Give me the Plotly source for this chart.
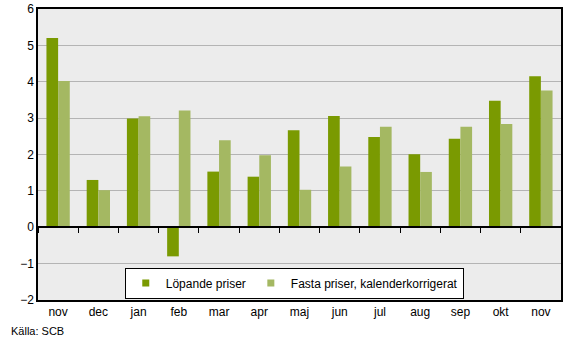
import plotly.graph_objects as go

months = ["nov", "dec", "jan", "feb", "mar", "apr", "maj", "jun", "jul", "aug", "sep", "okt", "nov "]
month_labels = ["nov", "dec", "jan", "feb", "mar", "apr", "maj", "jun", "jul", "aug", "sep", "okt", "nov"]
lopande = [5.2, 1.3, 2.99, -0.8, 1.53, 1.39, 2.67, 3.06, 2.48, 2.01, 2.43, 3.48, 4.15]
fasta = [4.02, 1.02, 3.05, 3.21, 2.39, 1.98, 1.03, 1.67, 2.76, 1.52, 2.76, 2.84, 3.76]
series_names = ["Löpande priser", "Fasta priser, kalenderkorrigerat"]
y_ticks = [-2, -1, 0, 1, 2, 3, 4, 5, 6]

dark = "#7A9A01"
light = "#A4B862"
font = "Liberation Sans, Arial, sans-serif"

fig = go.Figure()
fig.add_trace(go.Bar(x=months, y=lopande, marker=dict(color=dark, line_width=0),
                     name=series_names[0], showlegend=False))
fig.add_trace(go.Bar(x=months, y=fasta, marker=dict(color=light, line_width=0),
                     name=series_names[1], showlegend=False))
# legend entries with small square markers
fig.add_trace(go.Scatter(x=[None], y=[None], mode="markers", name=series_names[0],
                         marker=dict(symbol="square", size=7, color=dark)))
fig.add_trace(go.Scatter(x=[None], y=[None], mode="markers", name=series_names[1],
                         marker=dict(symbol="square", size=7, color=light)))
# invisible trace on secondary x axis used to draw the zero-line ticks
fig.add_trace(go.Scatter(x=months, y=[0] * len(months), xaxis="x2", mode="lines",
                         line=dict(width=0), opacity=0, showlegend=False, hoverinfo="skip"))

n = len(months)
fig.update_layout(
    width=567, height=349, autosize=False,
    margin=dict(l=38, r=6, t=9, b=49, autoexpand=False),
    paper_bgcolor="white",
    plot_bgcolor="#ECECEC",
    barmode="group",
    bargap=0.42,
    bargroupgap=0,
    font=dict(family=font, size=12, color="#000000"),
    xaxis=dict(
        type="category", categoryorder="array", categoryarray=months,
        range=[-0.5, n - 0.5], autorange=False,
        tickvals=months, ticktext=month_labels, automargin=False,
        showgrid=False, showline=True, linecolor="black", linewidth=1.5,
        mirror=True, ticks="", ticklen=0,
        tickfont=dict(size=12, color="#000000"),
    ),
    xaxis2=dict(
        type="category", matches="x", overlaying="x", anchor="free",
        position=0.25, showline=True, linecolor="black", linewidth=1.5,
        ticks="outside", tickson="boundaries", ticklen=5, tickcolor="black",
        showticklabels=False, showgrid=False, zeroline=False, automargin=False,
    ),
    yaxis=dict(
        range=[-2, 6], tickvals=y_ticks, showgrid=True, gridcolor="#B4B4B4",
        gridwidth=1, zeroline=False, showline=True, linecolor="black",
        linewidth=1.5, mirror=True, ticks="", automargin=False,
        tickfont=dict(size=12, color="#000000"),
    ),
    legend=dict(
        orientation="h", x=0.49, y=0.005, xanchor="center", yanchor="bottom",
        bgcolor="white", bordercolor="black", borderwidth=1,
        font=dict(size=12, color="#000000"),
        itemwidth=30, tracegroupgap=0,
    ),
    annotations=[dict(text="Källa: SCB", x=(9 - 38) / 523, y=(300 - 339) / 291,
                      xref="paper", yref="paper", xanchor="left", yanchor="bottom",
                      showarrow=False, font=dict(size=11, color="#000000"))],
)

fig.write_html("out.html", config={"responsive": False})
